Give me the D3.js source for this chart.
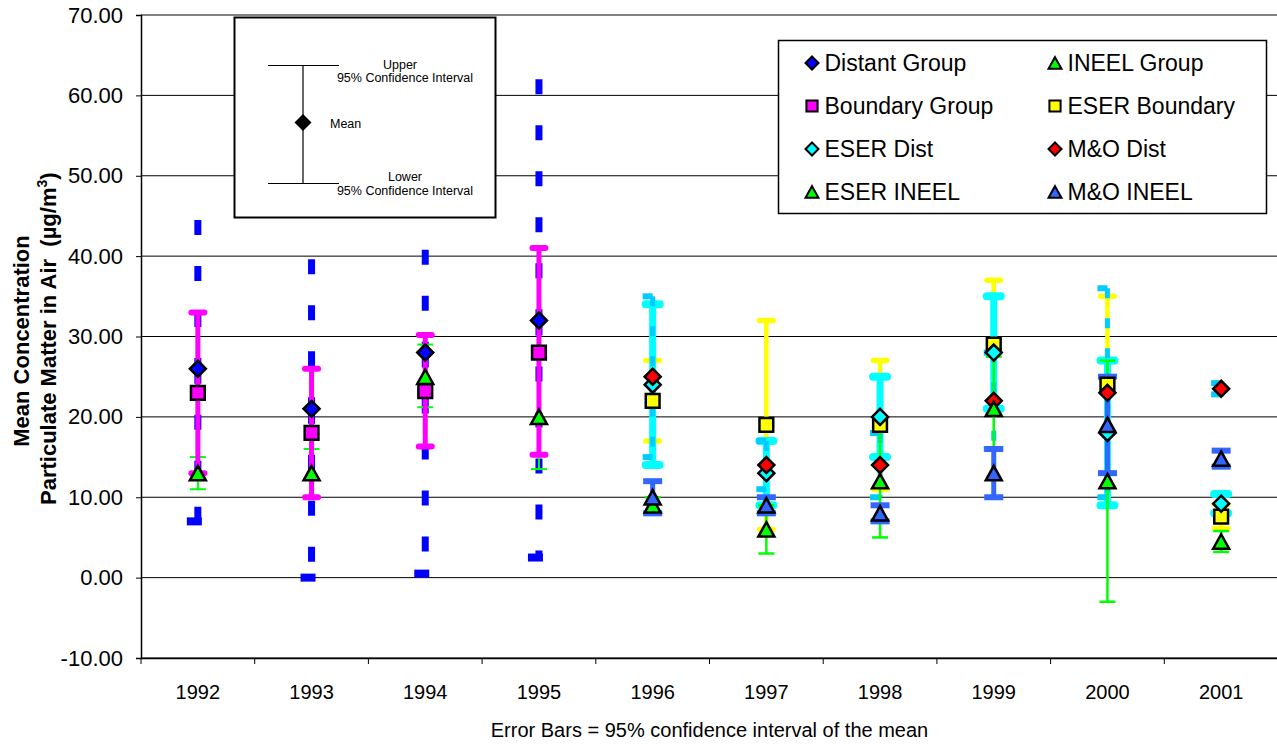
<!DOCTYPE html>
<html><head><meta charset="utf-8">
<script src="https://cdn.jsdelivr.net/npm/d3@7"></script>
<style>
html,body{margin:0;padding:0;background:#fff;}
svg{display:block;font-family:"Liberation Sans",Arial,sans-serif;}
</style></head>
<body>
<script>
// ---------- DATA ----------
const years = ['1992','1993','1994','1995','1996','1997','1998','1999','2000','2001'];
const yTicks = [-10,0,10,20,30,40,50,60,70];

const distantMean = [26, 21, 28, 32, null, null, null, null, null, null];
const distantLow  = [7, 0, 0.5, 2.5, null, null, null, null, null, null];
const distantHigh = [44.5, 39.6, 40.8, 62, null, null, null, null, null, null];

const ineelMean = [13, 13, 25, 20, null, null, null, null, null, null];
const ineelLow  = [11, 10, 21.2, 13.5, null, null, null, null, null, null];
const ineelHigh = [15, 16, 29, 27.5, null, null, null, null, null, null];

const boundaryMean = [23, 18, 23.2, 28, null, null, null, null, null, null];
const boundaryLow  = [13, 10, 16.3, 15.3, null, null, null, null, null, null];
const boundaryHigh = [33, 26, 30.2, 41, null, null, null, null, null, null];

const eserBoundaryMean = [null, null, null, null, 22, 19, 19, 29, 24, 7.6];
const eserBoundaryLow  = [null, null, null, null, 17, 6, 11, 21, 13, 6.1];
const eserBoundaryHigh = [null, null, null, null, 27, 32, 27, 37, 35, 9.1];

const eserDistMean = [null, null, null, null, 24, 13, 20, 28, 18, 9.2];
const eserDistLow  = [null, null, null, null, 14, 9, 15, 21, 9, 8];
const eserDistHigh = [null, null, null, null, 34, 17, 25, 35, 27, 10.4];

const moDistMean = [null, null, null, null, 25, 14, 14, 22, 23, 23.5];
const moDistLow  = [null, null, null, null, 15, 11, 10, 16, 10, 22.8];
const moDistHigh = [null, null, null, null, 35, 17, 18, 28, 36, 24.2];

const eserIneelMean = [null, null, null, null, 9, 6, 12, 21, 12, 4.5];
const eserIneelLow  = [null, null, null, null, 8, 3, 5, 16, -3, 3.2];
const eserIneelHigh = [null, null, null, null, 10, 9, 19, 27.5, 27, 5.8];

const moIneelMean = [null, null, null, null, 10, 9, 8, 13, 19, 14.8];
const moIneelLow  = [null, null, null, null, 8, 8, 7, 10, 13, 13.8];
const moIneelHigh = [null, null, null, null, 12, 10, 9, 16, 25, 15.8];

const seriesNames = ['Distant Group','INEEL Group','Boundary Group','ESER Boundary','ESER Dist','M&O Dist','ESER INEEL','M&O INEEL'];

// ---------- STYLE ----------
const series = [
  {name:seriesNames[0], mean:distantMean, low:distantLow, high:distantHigh, shape:'diamond', fill:'#0000FF',
   bar:{color:'#0000FF', w:7, dash:'15,31', capW:22, caps:['low'], lc:'butt', halves:true}},
  {name:seriesNames[1], mean:ineelMean, low:ineelLow, high:ineelHigh, shape:'triangle', fill:'#00FF00',
   bar:{color:'#00FF00', w:2, capW:16, caps:['low','high'], lc:'butt'}},
  {name:seriesNames[2], mean:boundaryMean, low:boundaryLow, high:boundaryHigh, shape:'square', fill:'#FF00FF',
   bar:{color:'#FF00FF', w:5, capW:18, caps:['low','high'], lc:'round'}},
  {name:seriesNames[3], mean:eserBoundaryMean, low:eserBoundaryLow, high:eserBoundaryHigh, shape:'square', fill:'#FFFF00',
   bar:{color:'#FFFF00', w:4.5, capW:18, caps:['low','high'], lc:'round'}},
  {name:seriesNames[4], mean:eserDistMean, low:eserDistLow, high:eserDistHigh, shape:'diamond', fill:'#00FFFF',
   bar:{color:'#00FFFF', w:7, capW:21, caps:['low','high'], lc:'round'}},
  {name:seriesNames[5], mean:moDistMean, low:moDistLow, high:moDistHigh, shape:'diamond', fill:'#FF0000',
   bar:{color:'#00CCFF', w:5, dash:'10,20', capW:20, caps:['low','high'], lc:'butt', halves:true}},
  {name:seriesNames[6], mean:eserIneelMean, low:eserIneelLow, high:eserIneelHigh, shape:'triangle', fill:'#00FF00',
   bar:{color:'#00FF00', w:2.5, capW:16, caps:['low','high'], lc:'butt'}},
  {name:seriesNames[7], mean:moIneelMean, low:moIneelLow, high:moIneelHigh, shape:'triangle', fill:'#3366FF',
   bar:{color:'#3366FF', w:5, capW:19, caps:['low','high'], lc:'butt'}}
];

const W = 1277, H = 744;
const plot = {left:141, right:1278, top:15, bottom:658};
const FONT = '"Liberation Sans",Arial,sans-serif';

const svg = d3.select('body').append('svg').attr('width', W).attr('height', H);

const x = d3.scaleBand().domain(years).range([plot.left, plot.right]);
const y = d3.scaleLinear().domain([-10, 70]).range([plot.bottom, plot.top]);

// gridlines
svg.append('g').selectAll('line').data(yTicks).join('line')
  .attr('x1', plot.left).attr('x2', plot.right)
  .attr('y1', d => y(d)).attr('y2', d => y(d))
  .attr('stroke', '#000').attr('stroke-width', 1);

// y axis
const fmt = d3.format('.2f');
const yAxis = d3.axisLeft(y).tickValues(yTicks).tickFormat(d => fmt(d).replace('\u2212', '-')).tickSize(5).tickPadding(13);
const gy = svg.append('g').attr('transform', `translate(${plot.left},0)`).call(yAxis);
gy.select('.domain').attr('stroke', '#000').attr('stroke-width', 1.5);
gy.selectAll('.tick line').attr('stroke', '#000');
gy.selectAll('.tick text').attr('font-size', 22).attr('font-family', FONT).attr('fill', '#000');

// x axis (ticks between categories)
const xAxis = d3.axisBottom(x).tickSize(0).tickPadding(0);
const gx = svg.append('g').attr('transform', `translate(0,${plot.bottom})`).call(xAxis);
gx.select('.domain').attr('stroke', '#000').attr('stroke-width', 1.5);
gx.selectAll('.tick text').attr('font-size', 20).attr('y', 41).attr('dy', 0)
  .attr('font-family', FONT).attr('fill', '#000');
const bounds = years.map(d => x(d)).concat([x(years[years.length-1]) + x.bandwidth()]);
gx.append('g').selectAll('line').data(bounds).join('line')
  .attr('x1', d => d).attr('x2', d => d).attr('y1', 0).attr('y2', 6)
  .attr('stroke', '#000').attr('stroke-width', 1);

// caption
svg.append('text').attr('x', (plot.left + plot.right) / 2).attr('y', 737)
  .attr('text-anchor', 'middle').attr('font-size', 20).text('Error Bars = 95% confidence interval of the mean');

// y title (rotated)
const yt = svg.append('g').attr('transform', 'rotate(-90)')
  .attr('font-weight', 'bold').attr('font-size', 22);
yt.append('text').attr('x', -341).attr('y', 29).attr('text-anchor', 'middle').text('Mean Concentration');
const l2 = yt.append('text').attr('x', -505).attr('y', 56).attr('text-anchor', 'start');
l2.append('tspan').text('Particulate Matter in Air\u00a0\u00a0(\u00b5g/m');
l2.append('tspan').attr('font-size', 14).attr('dy', -9).text('3');
l2.append('tspan').attr('dy', 9).text(')');

// marker shapes
function shapePath(type, r) {
  if (type === 'diamond') return `M0,${-r}L${r},0L0,${r}L${-r},0Z`;
  if (type === 'square') { const s = r * 0.86; return `M${-s},${-s}H${s}V${s}H${-s}Z`; }
  const w = r * 1.0, h = r * 0.9;
  return `M0,${-h}L${w},${h}L${-w},${h}Z`;
}

// error bars
const gBars = svg.append('g');
series.forEach(s => {
  const b = s.bar;
  years.forEach((yr, i) => {
    const m = s.mean[i];
    if (m == null) return;
    const cx = x(yr) + x.bandwidth() / 2;
    const lo = s.low[i], hi = s.high[i];
    const segs = b.halves
      ? [`M${cx},${y(hi)}L${cx},${y(m)}`, `M${cx},${y(m)}L${cx},${y(lo)}`]
      : [`M${cx},${y(hi)}L${cx},${y(lo)}`];
    segs.forEach(p => {
      gBars.append('path').attr('d', p).attr('fill', 'none')
        .attr('stroke', b.color).attr('stroke-width', b.w)
        .attr('stroke-dasharray', b.dash || null);
    });
    const half = (b.lc === 'round' ? (b.capW - b.w) : b.capW) / 2;
    b.caps.forEach(c => {
      const v = c === 'low' ? lo : hi;
      gBars.append('path').attr('d', `M${cx - half},${y(v)}L${cx + half},${y(v)}`)
        .attr('stroke', b.color).attr('stroke-width', b.dash ? b.w + 1 : (b.w < 3 ? b.w : b.w + 1))
        .attr('stroke-linecap', b.lc).attr('stroke-dasharray', b.dash || null);
    });
  });
});

// markers
const gMarks = svg.append('g');
series.forEach(s => {
  years.forEach((yr, i) => {
    const m = s.mean[i];
    if (m == null) return;
    const cx = x(yr) + x.bandwidth() / 2;
    gMarks.append('path').attr('d', shapePath(s.shape, 8))
      .attr('transform', `translate(${cx},${y(m)})`)
      .attr('fill', s.fill).attr('stroke', '#000').attr('stroke-width', 2.5)
      .attr('stroke-linejoin', 'miter');
  });
});

// legend (right)
const lg = svg.append('g');
lg.append('rect').attr('x', 778.5).attr('y', 40.5).attr('width', 488).attr('height', 173)
  .attr('fill', '#fff').attr('stroke', '#000').attr('stroke-width', 1.5);
series.forEach((s, k) => {
  const col = k % 2, row = Math.floor(k / 2);
  const mx = col === 0 ? 812 : 1055;
  const my = 63 + row * 43;
  lg.append('path').attr('d', shapePath(s.shape, 6.5)).attr('transform', `translate(${mx},${my})`)
    .attr('fill', s.fill).attr('stroke', '#000').attr('stroke-width', 2);
  lg.append('text').attr('x', mx + 12.5).attr('y', my + 8).attr('font-size', 23).text(s.name);
});

// inset explanation box
const ib = svg.append('g');
ib.append('rect').attr('x', 234.5).attr('y', 17.5).attr('width', 261).attr('height', 200)
  .attr('fill', '#fff').attr('stroke', '#000').attr('stroke-width', 2);
ib.append('line').attr('x1', 303).attr('x2', 303).attr('y1', 65.5).attr('y2', 183.5).attr('stroke', '#000').attr('stroke-width', 1.2);
ib.append('line').attr('x1', 268).attr('x2', 339).attr('y1', 65.5).attr('y2', 65.5).attr('stroke', '#000').attr('stroke-width', 1.2);
ib.append('line').attr('x1', 268).attr('x2', 339).attr('y1', 183.5).attr('y2', 183.5).attr('stroke', '#000').attr('stroke-width', 1.2);
ib.append('path').attr('d', shapePath('diamond', 8.5)).attr('transform', 'translate(303,122.5)').attr('fill', '#000');
ib.append('text').attr('x', 330).attr('y', 128).attr('font-size', 12.5).text('Mean');
ib.append('text').attr('x', 400).attr('y', 69).attr('font-size', 12.5).attr('text-anchor', 'middle').text('Upper');
ib.append('text').attr('x', 405).attr('y', 82).attr('font-size', 12.5).attr('text-anchor', 'middle').text('95% Confidence Interval');
ib.append('text').attr('x', 405).attr('y', 181).attr('font-size', 12.5).attr('text-anchor', 'middle').text('Lower');
ib.append('text').attr('x', 405).attr('y', 195).attr('font-size', 12.5).attr('text-anchor', 'middle').text('95% Confidence Interval');
</script>
</body></html>
